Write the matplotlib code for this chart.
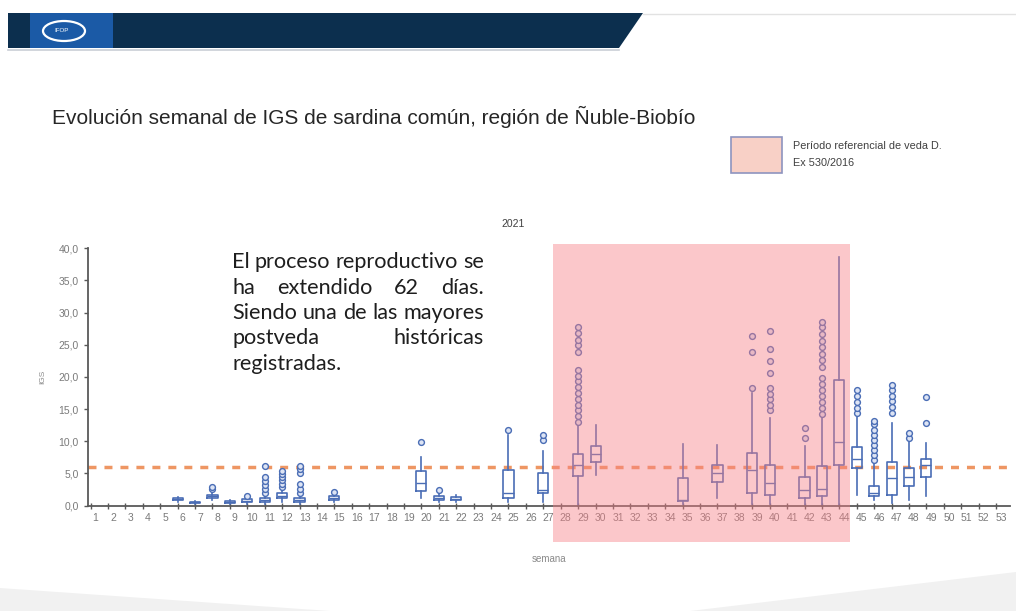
import matplotlib
matplotlib.use('Agg')
import matplotlib.pyplot as plt
import matplotlib.transforms as mtransforms
from matplotlib.patches import Rectangle, Polygon, Ellipse

W, H = 1016, 611

# weekly IGS boxplot stats
weeks = [6, 7, 8, 9, 10, 11, 12, 13, 15, 20, 21, 22, 25, 27, 29, 30, 35, 37,
         39, 40, 42, 43, 44, 45, 46, 47, 48, 49]
whislo = [0.6, 0.3, 0.9, 0.2, 0.2, 0.2, 0.6, 0.2, 0.6, 1.1, 0.5, 0.5, 0.5, 0.5,
          0.0, 4.7, 0.2, 1.1, 0.3, 0.3, 0.1, 0.0, 0.0, 1.6, 0.9, 0.4, 0.9, 1.4]
q1 = [0.8, 0.4, 1.2, 0.4, 0.5, 0.5, 1.1, 0.5, 0.9, 2.3, 0.8, 0.8, 1.1, 1.9,
      4.6, 6.8, 0.7, 3.7, 1.9, 1.6, 1.1, 1.4, 6.3, 5.8, 1.4, 1.6, 3.0, 4.5]
med = [1.0, 0.5, 1.4, 0.5, 0.7, 0.8, 1.5, 0.8, 1.1, 3.5, 1.1, 1.0, 1.9, 2.4,
       6.3, 8.0, 0.9, 5.0, 5.5, 3.5, 2.4, 2.5, 9.9, 7.2, 1.9, 4.2, 4.4, 6.3]
q3 = [1.2, 0.6, 1.7, 0.7, 1.0, 1.1, 1.9, 1.1, 1.4, 5.3, 1.4, 1.3, 5.5, 5.1,
      8.0, 9.3, 4.3, 6.3, 8.2, 6.3, 4.4, 6.2, 19.5, 9.1, 3.0, 6.8, 5.8, 7.3]
whishi = [1.3, 0.7, 2.1, 0.8, 1.2, 1.5, 2.5, 1.5, 1.7, 7.5, 1.9, 1.6, 11.0, 8.5,
          12.5, 12.5, 9.6, 9.4, 17.5, 13.6, 9.2, 13.8, 38.7, 13.8, 6.6, 12.8, 9.9, 9.7]
fliers = [
    [], [], [2.5, 2.9], [], [1.5],
    [2.0, 2.6, 3.2, 3.8, 4.4, 6.1],
    [2.9, 3.4, 3.9, 4.4, 4.9, 5.4],
    [1.9, 2.6, 3.3, 5.0, 5.6, 6.2],
    [2.1], [9.9], [2.4], [], [11.7], [10.2, 11.0],
    [13.0, 13.9, 14.8, 15.7, 16.6, 17.5, 18.4, 19.3, 20.2, 21.1,
     23.9, 24.9, 25.8, 26.8, 27.8],
    [], [], [],
    [18.3, 23.8, 26.4],
    [14.9, 15.7, 16.5, 17.3, 18.2, 20.6, 22.4, 24.4, 27.2],
    [10.5, 12.0],
    [14.3, 15.2, 16.1, 17.0, 17.9, 18.9, 19.8,
     21.6, 22.6, 23.6, 24.6, 25.6, 26.7, 27.7, 28.6],
    [],
    [14.4, 15.2, 16.1, 17.0, 17.9],
    [7.0, 7.8, 8.6, 9.4, 10.2, 11.0, 11.8, 12.6, 13.2],
    [14.4, 15.3, 16.2, 17.1, 18.0, 18.8],
    [10.5, 11.2],
    [12.8, 16.8],
]
all_weeks = list(range(1, 54))
yticks = [0, 5, 10, 15, 20, 25, 30, 35, 40]
ref_level = 6.0
veda_start, veda_end = 27.57, 44.63

title = 'Evolución semanal de IGS de sardina común, región de Ñuble-Biobío'
note_lines = ['El proceso reproductivo se', 'ha extendido 62 días.',
              'Siendo una de las mayores', 'postveda históricas', 'registradas.']

blue = '#4a6db5'
plt.rcParams['font.family'] = ['Liberation Sans', 'DejaVu Sans']


def px(x, y):
    return (x / W, 1 - y / H)


fig = plt.figure(figsize=(W / 100, H / 100), dpi=100)

# header banner
fig.patches.append(Polygon([px(8, 13), px(643, 13), px(619, 48), px(8, 48)],
                           closed=True, transform=fig.transFigure,
                           fc='#0c2f4e', ec='none'))
fig.patches.append(Rectangle(px(30, 48), 83 / W, 35 / H, transform=fig.transFigure,
                             fc='#1b5aa6', ec='none'))
fig.patches.append(Ellipse(px(64, 31), 42 / W, 20 / H, transform=fig.transFigure,
                           fc='none', ec='white', lw=1.6))
fig.text(*px(62, 31), 'IFOP', color='white', fontsize=4.5, ha='center', va='center')
fig.add_artist(plt.Line2D([8 / W, 619 / W], [1 - 49.5 / H] * 2, color='#c9ced6', lw=1.2))
fig.add_artist(plt.Line2D([643 / W, 1.0], [1 - 13.5 / H] * 2, color='#e2e2e2', lw=1))

# faint background swooshes at the bottom
fig.patches.append(Polygon([px(0, 588), px(0, 611), px(330, 611)], closed=True,
                           transform=fig.transFigure, fc='#f1f1f1', ec='none'))
fig.patches.append(Polygon([px(690, 611), px(1016, 572), px(1016, 611)], closed=True,
                           transform=fig.transFigure, fc='#f1f1f1', ec='none'))

fig.text(*px(52, 117), title, fontsize=15, color='#262626', ha='left', va='center')

# legend box
fig.patches.append(Rectangle(px(731, 173), 51 / W, 36 / H, transform=fig.transFigure,
                             fc='#f8d0c6', ec='#8e94bf', lw=1.2))
fig.text(*px(793, 146), 'Período referencial de veda D.', fontsize=7.8,
         color='#404040', va='center')
fig.text(*px(793, 163), 'Ex 530/2016', fontsize=7.8, color='#404040', va='center')

fig.text(*px(513, 224), '2021', fontsize=7.5, color='#404040', ha='center', va='center')

ax = fig.add_axes([88.3 / W, 1 - 505.5 / H, (1010 - 88.3) / W, (505.5 - 248.3) / H])
ax.set_xlim(0.87, 53.8)
ax.set_ylim(0, 40)

stats = []
for i in range(len(weeks)):
    stats.append(dict(med=med[i], q1=q1[i], q3=q3[i], whislo=whislo[i],
                      whishi=whishi[i], fliers=fliers[i]))

ax.axhline(ref_level, color='#ec8448', lw=2.5, ls=(0, (2.3, 2.3)), alpha=0.85, zorder=1)

art = ax.bxp(stats, positions=weeks, widths=0.58, showcaps=False, patch_artist=False,
             manage_ticks=False,
             boxprops=dict(color=blue, lw=1.2),
             whiskerprops=dict(color=blue, lw=1.2),
             medianprops=dict(color=blue, lw=1.0),
             flierprops=dict(marker='o', markersize=4.2, markerfacecolor='#dde4f4',
                             markeredgecolor=blue, markeredgewidth=1.0))
for k in art:
    for a in art[k]:
        a.set_clip_on(False)

# closed-season shading drawn over the boxes
ax.add_patch(Rectangle((veda_start, -5.68), veda_end - veda_start, 40.67 + 5.68,
                       fc='#f88087', alpha=0.44, lw=0, clip_on=False, zorder=5))

for s in ['top', 'right']:
    ax.spines[s].set_visible(False)
for s in ['left', 'bottom']:
    ax.spines[s].set_color('#595959')
    ax.spines[s].set_linewidth(1.3)

ax.set_yticks(yticks)
ax.set_yticklabels([f'{v:.1f}'.replace('.', ',') for v in yticks])
ax.set_xticks(all_weeks)
ax.set_xticklabels([str(w) for w in all_weeks])
ax.tick_params(axis='y', length=3, width=1, color='#595959', labelsize=7.5,
               labelcolor='#7a7a7a', pad=4)
ax.tick_params(axis='x', direction='inout', length=5, width=1, color='#595959',
               labelsize=7.5, labelcolor='#7a7a7a', pad=3)
offset = mtransforms.ScaledTranslation(5 / 100, 0, fig.dpi_scale_trans)
for lbl in ax.get_xticklabels():
    lbl.set_transform(lbl.get_transform() + offset)

ax.set_ylabel('IGS', fontsize=6, color='#8a8a8a', labelpad=9)
ax.set_xlabel('semana', fontsize=7, color='#8a8a8a', labelpad=22)

# justified note text, font sized so the first line fills the block width
renderer = fig.canvas.get_renderer()
x0, x1 = 232, 484
line_y = [262, 288, 313, 338, 364]
note_kw = dict(color='#1e1e1e', va='center', family=['Lato', 'DejaVu Sans'])
probe = fig.text(0, 0, note_lines[0], fontsize=13, **note_kw)
fs = 13 * (x1 - x0) / probe.get_window_extent(renderer).width
probe.remove()
note_kw['fontsize'] = fs
for i, (line, y) in enumerate(zip(note_lines, line_y)):
    words = line.split()
    if i == len(note_lines) - 1 or len(words) == 1:
        fig.text(*px(x0, y), line, **note_kw)
        continue
    texts = [fig.text(*px(x0, y), w, **note_kw) for w in words]
    widths = [t.get_window_extent(renderer).width for t in texts]
    gap = ((x1 - x0) - sum(widths)) / (len(words) - 1)
    x = x0
    for t, wd in zip(texts, widths):
        t.set_x(x / W)
        x += wd + gap

fig.savefig('out.png', dpi=100)
